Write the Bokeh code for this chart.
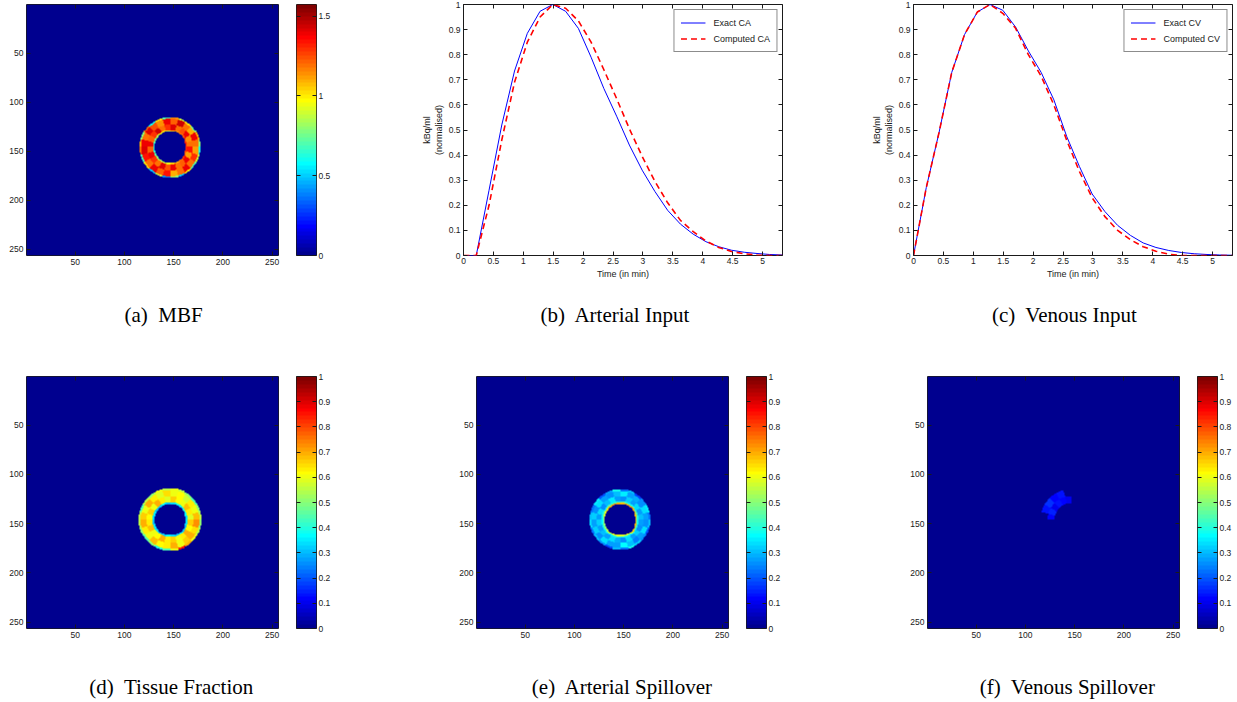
import numpy as np
from bokeh.plotting import figure
from bokeh.layouts import column, row
from bokeh.models import Range1d, LinearAxis, FixedTicker, CustomJSTickFormatter, LinearColorMapper
from bokeh.embed import file_html
from bokeh.resources import INLINE
from bokeh.core.properties import value

# ---------------- data: input functions (sampled every 12.8 s) ----------------
TIME_MIN = [0.000, 0.213, 0.427, 0.640, 0.853, 1.067, 1.280, 1.493, 1.707, 1.920,
            2.133, 2.347, 2.560, 2.773, 2.987, 3.200, 3.413, 3.627, 3.840, 4.053,
            4.267, 4.480, 4.693, 4.907, 5.120, 5.333]
CA_EXACT = [0.0, 0.0, 0.26, 0.52, 0.735, 0.885, 0.973, 1.0, 0.973, 0.905,
            0.79, 0.665, 0.555, 0.44, 0.34, 0.255, 0.18, 0.125, 0.085, 0.055,
            0.035, 0.021, 0.013, 0.008, 0.004, 0.002]
CA_COMPUTED = [0.0, 0.0, 0.2, 0.46, 0.69, 0.85, 0.95, 1.0, 0.985, 0.935,
               0.85, 0.74, 0.625, 0.505, 0.395, 0.295, 0.21, 0.14, 0.095, 0.058,
               0.032, 0.016, 0.007, 0.002, 0.0, 0.0]
CV_EXACT = [0.0, 0.27, 0.49, 0.73, 0.88, 0.97, 1.0, 0.977, 0.91, 0.815,
            0.73, 0.62, 0.475, 0.355, 0.245, 0.175, 0.12, 0.08, 0.05, 0.032,
            0.02, 0.012, 0.007, 0.004, 0.002, 0.001]
CV_COMPUTED = [0.0, 0.27, 0.49, 0.73, 0.88, 0.97, 1.0, 0.965, 0.905, 0.80,
               0.715, 0.60, 0.46, 0.335, 0.23, 0.155, 0.10, 0.063, 0.035, 0.017,
               0.005, 0.0, 0.0, 0.0, 0.0, 0.0]

LINE_XTICKS = [0, 0.5, 1, 1.5, 2, 2.5, 3, 3.5, 4, 4.5, 5]
LINE_YTICKS = [0, 0.1, 0.2, 0.3, 0.4, 0.5, 0.6, 0.7, 0.8, 0.9, 1]
IMG_TICKS = [50, 100, 150, 200, 250]
MBF_CBAR_TICKS = [0, 0.5, 1, 1.5]
FRAC_CBAR_TICKS = [0, 0.1, 0.2, 0.3, 0.4, 0.5, 0.6, 0.7, 0.8, 0.9, 1]

# ---------------- data: parametric maps (ring sectors) ----------------
IMG_SIZE = 256
RING_CENTER = (146.5, 146.0)   # (column, row)
MBF_MAX = 1.573

MBF_RADII = [16.0, 17.5, 23.5, 29.5, 31.0]
MBF_BANDS = [
    [0.65, 0.75, 0.85, 0.95, 1.0, 0.9, 1.05, 1.15, 1.2, 1.25, 1.3, 1.35, 1.3, 1.25, 1.3, 1.2, 1.1, 1.05, 0.95, 0.9, 0.85, 0.8, 0.7, 0.6],
    [1.38, 1.22, 1.3, 1.45, 1.18, 1.3, 1.42, 1.2, 1.25, 1.4, 1.15, 1.2, 1.35, 1.12, 1.4, 1.22, 1.18, 1.38, 1.25, 1.42, 1.2, 1.28, 1.4, 1.22],
    [1.4, 1.2, 1.42, 1.25, 1.15, 1.4, 1.22, 1.45, 1.18, 1.1, 1.38, 1.2, 1.12, 1.3, 1.18, 1.38, 1.2, 1.1, 1.35, 1.22, 1.4, 1.18, 1.35, 1.42],
    [1.1, 0.8, 1.2, 0.6, 1.0, 0.7, 1.15, 0.9, 1.0, 0.75, 1.1, 0.8, 0.6, 0.9, 0.7, 1.0, 0.5, 0.8, 0.4, 0.9, 0.5, 1.0, 0.7, 1.2],
]

TF_RADII = [16.0, 18.0, 24.0, 30.0, 32.0]
TF_BANDS = [
    [0.33, 0.35, 0.3, 0.32, 0.36, 0.3, 0.34, 0.38, 0.35, 0.4, 0.36, 0.33, 0.35, 0.3, 0.32, 0.35, 0.3, 0.33, 0.36, 0.32, 0.3, 0.34, 0.35, 0.3],
    [0.62, 0.66, 0.6, 0.7, 0.64, 0.58, 0.66, 0.62, 0.6, 0.68, 0.63, 0.59, 0.66, 0.61, 0.7, 0.64, 0.6, 0.67, 0.63, 0.7, 0.62, 0.6, 0.68, 0.64],
    [0.66, 0.6, 0.7, 0.63, 0.58, 0.65, 0.6, 0.62, 0.57, 0.64, 0.6, 0.68, 0.72, 0.65, 0.7, 0.66, 0.6, 0.7, 0.64, 0.62, 0.68, 0.6, 0.64, 0.7],
    [0.55, 0.45, 0.55, 0.5, 0.6, 0.55, 0.6, 0.55, 0.5, 0.45, 0.5, 0.55, 0.5, 0.55, 0.6, 0.7, 0.85, 0.6, 0.45, 0.4, 0.5, 0.45, 0.5, 0.55],
]

AS_RADII = [16.0, 17.5, 19.0, 24.0, 29.0, 31.0]
AS_BANDS = [
    [0.55, 0.6, 0.65, 0.7, 0.72, 0.7, 0.68, 0.7, 0.72, 0.7, 0.68, 0.66, 0.68, 0.7, 0.66, 0.62, 0.6, 0.58, 0.6, 0.62, 0.58, 0.55, 0.5, 0.52],
    [0.38, 0.42, 0.4, 0.45, 0.42, 0.4, 0.44, 0.4, 0.38, 0.42, 0.45, 0.4, 0.38, 0.42, 0.4, 0.36, 0.4, 0.38, 0.42, 0.4, 0.36, 0.38, 0.4, 0.37],
    [0.28, 0.33, 0.26, 0.3, 0.35, 0.28, 0.25, 0.32, 0.28, 0.34, 0.27, 0.3, 0.28, 0.25, 0.32, 0.28, 0.34, 0.26, 0.29, 0.33, 0.27, 0.3, 0.28, 0.32],
    [0.32, 0.26, 0.34, 0.28, 0.25, 0.3, 0.35, 0.27, 0.29, 0.25, 0.33, 0.28, 0.26, 0.34, 0.28, 0.24, 0.3, 0.36, 0.27, 0.28, 0.33, 0.26, 0.32, 0.28],
    [0.3, 0.22, 0.35, 0.2, 0.28, 0.38, 0.22, 0.3, 0.18, 0.26, 0.35, 0.22, 0.3, 0.2, 0.26, 0.32, 0.38, 0.22, 0.3, 0.18, 0.26, 0.3, 0.22, 0.33],
]

VS_RADII = [17.0, 24.0, 31.0]
VS_BANDS = [
    [0.12, 0.15, 0.10, 0.14, 0.12, 0.10, 0, 0, 0, 0, 0, 0, 0, 0, 0, 0, 0, 0, 0, 0, 0, 0, 0, 0],
    [0, 0.13, 0.16, 0.11, 0.14, 0, 0, 0, 0, 0, 0, 0, 0, 0, 0, 0, 0, 0, 0, 0, 0, 0, 0, 0],
]

CAPTIONS_TOP = ["(a)\u00a0 MBF", "(b)\u00a0 Arterial Input", "(c)\u00a0 Venous Input"]
CAPTIONS_BOTTOM = ["(d)\u00a0 Tissue Fraction", "(e)\u00a0 Arterial Spillover", "(f)\u00a0 Venous Spillover"]
CAPTION_TOP_X = [163, 615, 1064]
CAPTION_BOTTOM_X = [171, 622, 1067]

# ---------------- helpers ----------------
AX_COLOR = "#1a1a1a"
FMT = CustomJSTickFormatter(code="return String(Math.round(tick*1000)/1000);")


def matlab_jet(m=64):
    n = int(np.ceil(m / 4))
    u = np.concatenate([np.arange(1, n + 1) / n, np.ones(n - 1), np.arange(n, 0, -1) / n])
    g = int(np.ceil(n / 2)) - (1 if m % 4 == 1 else 0) + np.arange(1, len(u) + 1)
    r = g + n
    b = g - n
    gi, ri, bi = g[g <= m], r[r <= m], b[b >= 1]
    J = np.zeros((m, 3))
    J[ri - 1, 0] = u[:len(ri)]
    J[gi - 1, 1] = u[:len(gi)]
    J[bi - 1, 2] = u[len(u) - len(bi):]
    return ["#%02x%02x%02x" % tuple(int(round(c * 255)) for c in rgb) for rgb in J]


JET = matlab_jet(64)


def ring_image(radii, bands):
    k = np.arange(IMG_SIZE) + 1.0
    X, Y = np.meshgrid(k, k)
    dx = X - RING_CENTER[0]
    dy = Y - RING_CENTER[1]
    rr = np.hypot(dx, dy)
    ang = np.degrees(np.arctan2(dy, dx))
    nsec = len(bands[0])
    sec = np.clip(((ang + 180.0) / 360.0 * nsec).astype(int), 0, nsec - 1)
    img = np.zeros((IMG_SIZE, IMG_SIZE), dtype=np.float32)
    for i, band in enumerate(bands):
        m = (rr >= radii[i]) & (rr < radii[i + 1])
        img[m] = np.asarray(band, dtype=np.float32)[sec[m]]
    return img


def style_axis(ax, ticks, size):
    ax.ticker = FixedTicker(ticks=ticks)
    ax.formatter = FMT
    ax.major_tick_in = 4
    ax.major_tick_out = 0
    ax.minor_tick_line_color = None
    ax.axis_line_color = None
    ax.major_tick_line_color = AX_COLOR
    ax.major_label_text_font = "Liberation Sans"
    ax.major_label_text_color = AX_COLOR
    ax.major_label_text_font_size = size
    ax.major_label_standoff = 3


def tick_only_axis(ticks):
    # mirrored ticks on the opposite side of the box (no labels): minor ticks only
    ax = LinearAxis(ticker=FixedTicker(ticks=[], minor_ticks=ticks))
    ax.axis_line_color = None
    ax.major_tick_line_color = None
    ax.minor_tick_in = 4
    ax.minor_tick_out = 0
    ax.minor_tick_line_color = AX_COLOR
    ax.major_label_standoff = 0
    return ax


def base_fig(width, height, xr, yr, left, right, top, bottom, **kw):
    p = figure(width=width, height=height, x_range=xr, y_range=yr,
               min_border_left=left, min_border_right=right,
               min_border_top=top, min_border_bottom=bottom,
               toolbar_location=None, output_backend="svg", **kw)
    p.outline_line_color = AX_COLOR
    p.outline_line_width = 1
    p.background_fill_color = "white"
    p.border_fill_color = "white"
    return p


def image_panel(img, high, left, frame_h, bottom):
    p = base_fig(left + 252 + 18, 4 + frame_h + bottom,
                 Range1d(0.5, 256.5), Range1d(256.5, 0.5), left, 18, 4, bottom)
    mapper = LinearColorMapper(palette=JET, low=0, high=high)
    p.image(image=[img], x=0.5, y=0.5, dw=256, dh=256, color_mapper=mapper)
    p.xgrid.visible = False
    p.ygrid.visible = False
    style_axis(p.xaxis[0], IMG_TICKS, "8.5px")
    style_axis(p.yaxis[0], IMG_TICKS, "8.5px")
    p.add_layout(tick_only_axis(IMG_TICKS), "above")
    p.add_layout(tick_only_axis(IMG_TICKS), "right")
    return p


def cbar_panel(high, ticks, width, frame_h, bottom):
    p = base_fig(width, 4 + frame_h + bottom, Range1d(0, 1), Range1d(0, high),
                 0, width - 20, 4, bottom, x_axis_location=None, y_axis_location=None)
    ramp = np.linspace(0, high, 256).reshape(256, 1)
    p.image(image=[ramp], x=0, y=0, dw=1, dh=high,
            color_mapper=LinearColorMapper(palette=JET, low=0, high=high))
    p.grid.visible = False
    lab = LinearAxis()
    style_axis(lab, ticks, "8.5px")
    lab.major_label_standoff = 2
    p.add_layout(lab, "right")
    p.add_layout(tick_only_axis(ticks), "left")
    return p


def line_panel(exact, computed, name, left, frame_w, right):
    p = base_fig(left + frame_w + right, 281, Range1d(0, TIME_MIN[-1]), Range1d(0, 1),
                 left, right, 4, 26)
    p.xgrid.visible = False
    p.ygrid.visible = False
    p.line(TIME_MIN, exact, line_color="#0000ff", line_width=1, legend_label="Exact " + name)
    p.line(TIME_MIN, computed, line_color="#ff0000", line_width=1.6, line_dash="6 4",
           legend_label="Computed " + name)
    style_axis(p.xaxis[0], LINE_XTICKS, "8.5px")
    style_axis(p.yaxis[0], LINE_YTICKS, "8.5px")
    p.xaxis[0].major_label_standoff = 2
    for ax in (p.xaxis[0], p.yaxis[0]):
        ax.axis_label_text_font = "Liberation Sans"
        ax.axis_label_text_font_size = "9px"
        ax.axis_label_text_font_style = "normal"
        ax.axis_label_text_color = AX_COLOR
        ax.axis_label_standoff = 2
    p.xaxis[0].axis_label = "Time (in min)"
    p.yaxis[0].axis_label = "kBq/ml\n(normalised)"
    p.add_layout(tick_only_axis(LINE_XTICKS), "above")
    p.add_layout(tick_only_axis(LINE_YTICKS), "right")
    lg = p.legend[0]
    lg.location = "top_right"
    lg.margin = 5
    lg.padding = 6
    lg.spacing = 3
    lg.glyph_width = 25
    lg.glyph_height = 13
    lg.label_height = 13
    lg.label_standoff = 8
    lg.label_text_font = "Liberation Sans"
    lg.label_text_font_size = "9px"
    lg.label_text_color = AX_COLOR
    lg.border_line_color = AX_COLOR
    lg.border_line_width = 1
    lg.background_fill_color = "white"
    lg.background_fill_alpha = 1
    return p


def caption_fig(height, labels, centers, y):
    p = figure(width=1237, height=height, x_range=Range1d(0, 1237), y_range=Range1d(0, height),
               min_border_left=0, min_border_right=0, min_border_top=0, min_border_bottom=0,
               x_axis_location=None, y_axis_location=None, toolbar_location=None,
               output_backend="svg")
    p.outline_line_color = None
    p.grid.visible = False
    p.text(x=centers, y=[y] * len(labels), text=labels, text_align="center",
           text_baseline="middle", text_font=value("Liberation Serif"),
           text_font_size="21px", text_color="black")
    return p


# ---------------- build ----------------
mbf_img = ring_image(MBF_RADII, MBF_BANDS)
tf_img = ring_image(TF_RADII, TF_BANDS)
as_img = ring_image(AS_RADII, AS_BANDS)
vs_img = ring_image(VS_RADII, VS_BANDS)

a_img = image_panel(mbf_img, MBF_MAX, 26, 253, 24)
a_cb = cbar_panel(MBF_MAX, MBF_CBAR_TICKS, 40, 253, 24)
b_plot = line_panel(CA_EXACT, CA_COMPUTED, "CA", 127, 319, 8)
c_plot = line_panel(CV_EXACT, CV_COMPUTED, "CV", 123, 319, 4)

d_img = image_panel(tf_img, 1.0, 26, 252, 20)
d_cb = cbar_panel(1.0, FRAC_CBAR_TICKS, 40, 252, 20)
e_img = image_panel(as_img, 1.0, 140, 252, 20)
e_cb = cbar_panel(1.0, FRAC_CBAR_TICKS, 40, 252, 20)
f_img = image_panel(vs_img, 1.0, 141, 252, 20)
f_cb = cbar_panel(1.0, FRAC_CBAR_TICKS, 40, 252, 20)

cap1 = caption_fig(91, CAPTIONS_TOP, CAPTION_TOP_X, 58)
cap2 = caption_fig(53, CAPTIONS_BOTTOM, CAPTION_BOTTOM_X, 15)

layout = column(
    row(a_img, a_cb, b_plot, c_plot),
    cap1,
    row(d_img, d_cb, e_img, e_cb, f_img, f_cb),
    cap2,
)

open("out.html", "w").write(file_html(layout, INLINE))
